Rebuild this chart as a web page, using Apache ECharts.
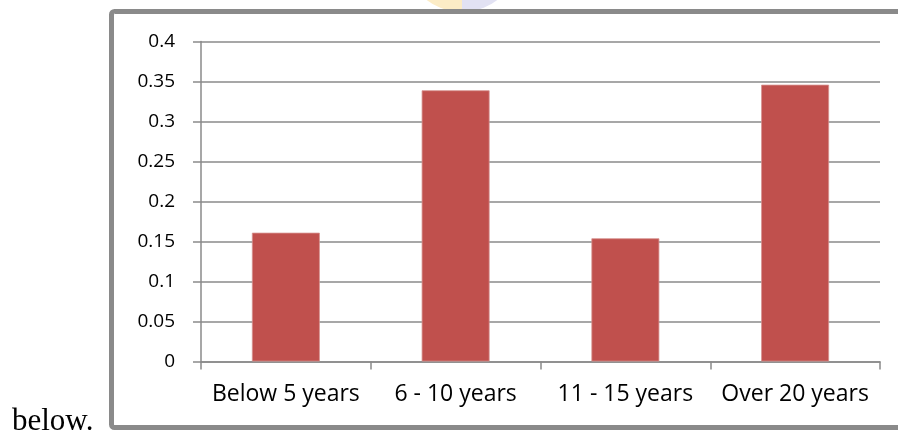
<!DOCTYPE html>
<html>
<head>
<meta charset="utf-8">
<script src="https://cdn.jsdelivr.net/npm/echarts@6/dist/echarts.min.js"></script>
<style>
  html, body { margin: 0; padding: 0; background: #ffffff; }
  #chart { width: 898px; height: 432px; }
</style>
</head>
<body>
<div id="chart"></div>
<script>
// Years-of-experience groups and their shares
const categories = ['Below 5 years', '6 - 10 years', '11 - 15 years', 'Over 20 years'];
const shares = [0.161, 0.339, 0.154, 0.346];
const yMin = 0;
const yMax = 0.4;
const yStep = 0.05;

const chart = echarts.init(document.getElementById('chart'), null, { renderer: 'canvas' });

const labelFont = '"Open Sans", "Noto Sans", sans-serif';
const axisGray = '#8a8a8a';

chart.setOption({
  animation: false,
  backgroundColor: '#ffffff',
  grid: { left: 201, right: 18, top: 41.5, bottom: 70.5, containLabel: false },
  xAxis: {
    type: 'category',
    data: categories,
    boundaryGap: true,
    axisLine: { show: true, lineStyle: { color: axisGray, width: 1.5 } },
    axisTick: { show: true, length: 8, lineStyle: { color: axisGray, width: 1.5 } },
    axisLabel: { color: '#000', fontFamily: labelFont, fontSize: 23, margin: 21, interval: 0 },
    splitLine: { show: false }
  },
  yAxis: {
    type: 'value',
    min: yMin,
    max: yMax,
    interval: yStep,
    axisLine: { show: true, lineStyle: { color: axisGray, width: 1.5 } },
    axisTick: { show: true, length: 8, lineStyle: { color: axisGray, width: 1.5 } },
    axisLabel: { color: '#000', fontFamily: labelFont, fontSize: 19, margin: 26 },
    splitLine: { show: true, lineStyle: { color: axisGray, width: 1.5 } }
  },
  series: [{
    type: 'bar',
    data: shares,
    barWidth: '40%',
    itemStyle: { color: '#C0504D', borderColor: '#d6908e', borderWidth: 0.8 }
  }],
  graphic: [
    // faint emblem peeking over the top edge
    { type: 'sector', z: 1, shape: { cx: 462, cy: -46, r: 58, r0: 0, startAngle: Math.PI / 2, endAngle: Math.PI }, style: { fill: '#fcecc6' } },
    { type: 'sector', z: 1, shape: { cx: 462, cy: -46, r: 58, r0: 0, startAngle: 0, endAngle: Math.PI / 2 }, style: { fill: '#e2e2f3' } },
    // frame around the chart
    { type: 'rect', z: 10, shape: { x: 111.5, y: 11.5, width: 820, height: 416, r: 3 }, style: { fill: 'none', stroke: '#8a8a8a', lineWidth: 5 } },
    // surrounding sentence fragment
    { type: 'text', z: 10, style: { x: 12, y: 437, text: 'below.', fill: '#000', font: '31px "Liberation Serif", "Times New Roman", serif', verticalAlign: 'bottom' } }
  ]
});
</script>
</body>
</html>
